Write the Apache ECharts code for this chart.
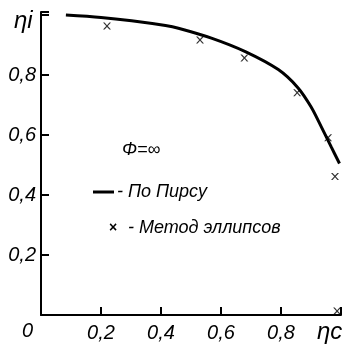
<!DOCTYPE html>
<html><head><meta charset="utf-8">
<script src="https://cdn.jsdelivr.net/npm/echarts@6/dist/echarts.min.js"></script>
<style>html,body{margin:0;padding:0;background:#fff}#c{width:344px;height:346px}</style>
</head><body><div id="c"></div>
<script>
// Curve "По Пирсу": [eta_c, eta_i]
const curveX = [0.083, 0.2, 0.302, 0.415, 0.458, 0.568, 0.681, 0.791, 0.857, 0.900, 0.934, 0.967, 0.995];
const curveY = [1.0, 0.992, 0.981, 0.965, 0.956, 0.923, 0.878, 0.818, 0.757, 0.694, 0.628, 0.561, 0.505];
// Crosses "Метод эллипсов"
const crossX = [0.22, 0.53, 0.678, 0.854, 0.957, 0.98, 0.987];
const crossY = [0.963, 0.917, 0.857, 0.741, 0.591, 0.462, 0.013];
const xTicks = [0, 0.2, 0.4, 0.6, 0.8, 1.0];
const yTicks = [0, 0.2, 0.4, 0.6, 0.8, 1.0];

const FONT = 'Liberation Sans';
const chart = echarts.init(document.getElementById('c'), null, {renderer: 'canvas'});
const fmt = v => (v <= 0 || v >= 1) ? '' : v.toFixed(1).replace('.', ',');
chart.setOption({
  animation: false,
  grid: {left: 41, right: 1, top: 12, bottom: 31},
  xAxis: {
    type: 'value', min: 0, max: 1.0, interval: 0.2,
    axisLine: {show: true, lineStyle: {color: '#000', width: 2}},
    axisTick: {show: true, inside: true, length: 8, lineStyle: {color: '#000', width: 2}},
    splitLine: {show: false},
    axisLabel: {formatter: fmt, color: '#000', fontFamily: FONT, fontStyle: 'italic', fontSize: 20, margin: 8}
  },
  yAxis: {
    type: 'value', min: 0, max: 1.01, interval: 0.2,
    axisLine: {show: true, lineStyle: {color: '#000', width: 2}},
    axisTick: {show: true, inside: true, length: 8, lineStyle: {color: '#000', width: 2}},
    splitLine: {show: false},
    axisLabel: {formatter: fmt, color: '#000', fontFamily: FONT, fontStyle: 'italic', fontSize: 20, margin: 5}
  },
  series: [
    {type: 'line', smooth: 0.3, symbol: 'none', data: curveX.map((x, i) => [x, curveY[i]]),
     lineStyle: {color: '#000', width: 3}},
    {type: 'scatter', symbol: 'path://M0,0L2,0L5,3L8,0L10,0L6,4L10,8L8,8L5,5L2,8L0,8L4,4Z', symbolSize: [8, 7],
     data: crossX.map((x, i) => [x, crossY[i]]), itemStyle: {color: '#000'}}
  ],
  graphic: [
    {type: 'text', left: 14, top: 9, style: {text: 'ηi', font: 'italic 24px "' + FONT + '"', fill: '#000'}},
    {type: 'text', left: 317, top: 320, style: {text: 'ηc', font: 'italic 24px "' + FONT + '"', fill: '#000'}},
    {type: 'text', left: 22, top: 321, style: {text: '0', font: 'italic 20px "' + FONT + '"', fill: '#000'}},
    {type: 'text', left: 122, top: 141, style: {text: 'Φ=∞', font: 'italic 18px "' + FONT + '"', fill: '#000'}},
    {type: 'line', shape: {x1: 93, y1: 192, x2: 114, y2: 192}, style: {stroke: '#000', lineWidth: 3}},
    {type: 'text', left: 117, top: 183, style: {text: '- По Пирсу', font: 'italic 18px "' + FONT + '"', fill: '#000'}},
    {type: 'text', left: 109, top: 221, style: {text: '×', font: 'bold 14px "' + FONT + '"', fill: '#000'}},
    {type: 'text', left: 128, top: 219, style: {text: '- Метод эллипсов', font: 'italic 18px "' + FONT + '"', fill: '#000'}}
  ]
});
</script></body></html>
